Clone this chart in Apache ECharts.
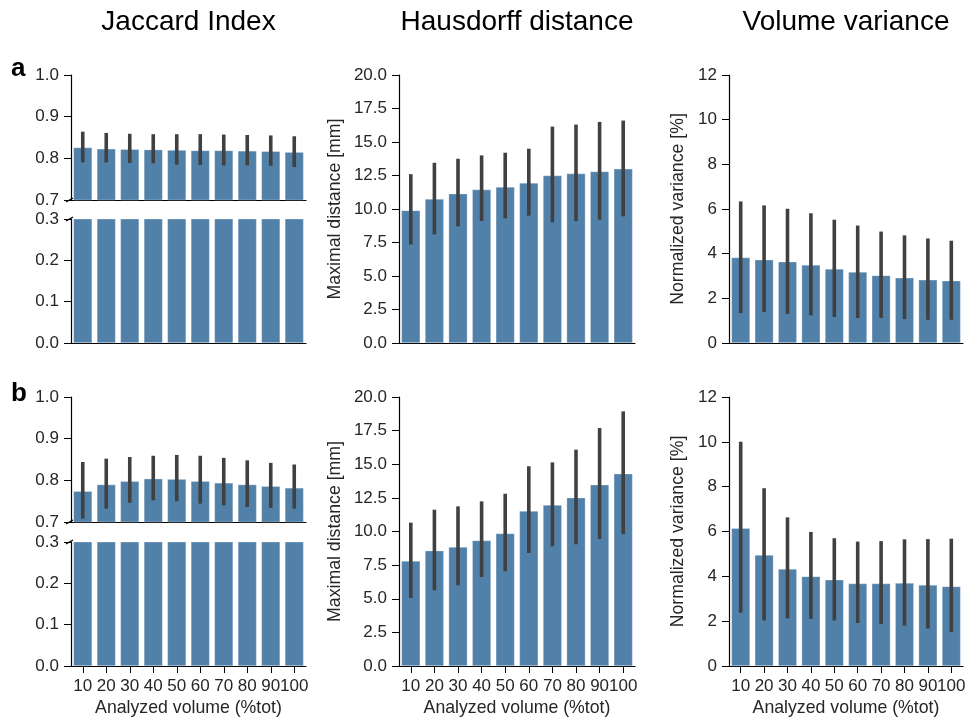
<!DOCTYPE html>
<html><head><meta charset="utf-8">
<script src="https://cdn.jsdelivr.net/npm/echarts@6/dist/echarts.min.js"></script>
<style>html,body{margin:0;padding:0;background:#fff}#c{width:978px;height:720px}</style>
</head><body><div id="c"></div>
<script>
const categories = ['10','20','30','40','50','60','70','80','90','100'];

// Row a
const jaccardA = [0.826,0.823,0.822,0.821,0.820,0.819,0.819,0.818,0.817,0.815];
const jaccardA_lo = [0.790,0.790,0.789,0.788,0.785,0.784,0.783,0.783,0.782,0.779];
const jaccardA_hi = [0.864,0.861,0.859,0.858,0.858,0.858,0.857,0.856,0.855,0.853];
const hausA = [9.9,10.75,11.15,11.45,11.65,11.95,12.5,12.65,12.8,13.0];
const hausA_lo = [7.35,8.1,8.7,9.1,9.3,9.5,9.0,9.1,9.2,9.45];
const hausA_hi = [12.6,13.45,13.75,14.0,14.2,14.5,16.15,16.3,16.5,16.6];
const volA = [3.83,3.73,3.64,3.50,3.32,3.18,3.03,2.92,2.83,2.79];
const volA_lo = [1.34,1.39,1.30,1.24,1.16,1.12,1.12,1.07,1.04,1.04];
const volA_hi = [6.34,6.16,6.01,5.81,5.52,5.26,4.99,4.82,4.68,4.58];

// Row b
const jaccardB = [0.774,0.790,0.798,0.804,0.803,0.798,0.794,0.790,0.786,0.782];
const jaccardB_lo = [0.708,0.732,0.746,0.752,0.750,0.744,0.740,0.736,0.734,0.732];
const jaccardB_hi = [0.844,0.852,0.856,0.859,0.861,0.859,0.854,0.848,0.842,0.838];
const hausB = [7.81,8.58,8.85,9.34,9.86,11.52,11.97,12.52,13.48,14.30];
const hausB_lo = [5.06,5.63,6.0,6.62,7.04,8.40,8.90,9.05,9.44,9.81];
const hausB_hi = [10.66,11.62,11.87,12.24,12.81,14.85,15.14,16.08,17.69,18.93];
const volB = [6.15,4.95,4.33,4.00,3.85,3.68,3.68,3.70,3.62,3.55];
const volB_lo = [2.38,2.03,2.12,2.10,2.03,1.92,1.88,1.80,1.67,1.52];
const volB_hi = [10.0,7.93,6.63,5.98,5.70,5.55,5.57,5.65,5.66,5.68];

const titles = ['Jaccard Index','Hausdorff distance','Volume variance'];
const yNames = ['Maximal distance [mm]','Normalized variance [%]'];
const xName = 'Analyzed volume (%tot)';
const panelLetters = ['a','b'];

const FONT = '"Liberation Sans", Arial, sans-serif';
const BAR = '#5181a9';
const ERR = '#404040';
const TXT = '#262626';
const TICK_FS = 17;
const NAME_FS = 17.7;

const chart = echarts.init(document.getElementById('c'));

const grids = [], xAxes = [], yAxes = [], series = [];
function addPanel(g, yMin, yMax, yInt, fmt, vals, lo, hi, opts) {
  const gi = grids.length;
  grids.push({left: g.left, top: g.top, width: g.width, height: g.height, containLabel: false});
  xAxes.push({
    type: 'category', gridIndex: gi, data: categories,
    axisLine: {show: true, lineStyle: {color: '#000', width: 1.2}},
    axisTick: {show: !!opts.xLabels, alignWithLabel: true, length: 7, lineStyle: {color: '#000', width: 1}},
    axisLabel: {show: !!opts.xLabels, color: TXT, fontSize: TICK_FS, fontFamily: FONT, margin: 12, interval: 0},
    name: opts.xLabels ? xName : '', nameLocation: 'middle', nameGap: 33,
    nameTextStyle: {color: TXT, fontSize: NAME_FS, fontFamily: FONT},
    splitLine: {show: false}
  });
  yAxes.push({
    type: 'value', gridIndex: gi, min: yMin, max: yMax, interval: yInt,
    axisLine: {show: true, lineStyle: {color: '#000', width: 1.2}},
    axisTick: {show: true, length: 7, lineStyle: {color: '#000', width: 1}},
    axisLabel: {color: TXT, fontSize: TICK_FS, fontFamily: FONT, margin: 12, formatter: v => fmt(v)},
    splitLine: {show: false},
    name: opts.yName || '', nameLocation: 'middle', nameGap: opts.nameGap || 50,
    nameTextStyle: {color: TXT, fontSize: NAME_FS, fontFamily: FONT}
  });
  series.push({
    type: 'bar', xAxisIndex: gi, yAxisIndex: gi, data: vals, barCategoryGap: '20%',
    itemStyle: {color: BAR, borderColor: 'rgba(255,255,255,0.5)', borderWidth: 0.6},
    clip: true, silent: true, animation: false
  });
  if (opts.err) {
    series.push({
      type: 'custom', xAxisIndex: gi, yAxisIndex: gi,
      data: categories.map((c, i) => [i, lo[i], hi[i]]),
      encode: {x: 0, y: [1, 2]},
      renderItem: (params, api) => {
        const x = api.value(0);
        const p1 = api.coord([x, api.value(1)]);
        const p2 = api.coord([x, api.value(2)]);
        return {type: 'line', shape: {x1: p1[0], y1: p1[1], x2: p2[0], y2: p2[1]},
                style: {stroke: ERR, lineWidth: 3.6, lineCap: 'butt'}};
      },
      silent: true, animation: false, z: 5
    });
  }
}

const f1 = v => v.toFixed(1);
const f0 = v => String(Math.round(v));

const rows = [
  {jt: 75, jb: 219, top: 75, h: 268, d: [jaccardA, jaccardA_lo, jaccardA_hi, hausA, hausA_lo, hausA_hi, volA, volA_lo, volA_hi], xl: false, letterY: 69},
  {jt: 397, jb: 542, top: 397, h: 269, d: [jaccardB, jaccardB_lo, jaccardB_hi, hausB, hausB_lo, hausB_hi, volB, volB_lo, volB_hi], xl: true, letterY: 394}
];
const cols = [{left: 71, width: 235}, {left: 399, width: 236}, {left: 729, width: 234}];

rows.forEach(r => {
  const d = r.d;
  addPanel({left: cols[0].left, width: cols[0].width, top: r.jt, height: 125}, 0.7, 1.0, 0.1, f1, d[0], d[1], d[2], {err: true, xLabels: false});
  addPanel({left: cols[0].left, width: cols[0].width, top: r.jb, height: 124}, 0, 0.3, 0.1, f1, d[0], d[1], d[2], {err: false, xLabels: r.xl});
  addPanel({left: cols[1].left, width: cols[1].width, top: r.top, height: r.h}, 0, 20, 2.5, f1, d[3], d[4], d[5], {err: true, xLabels: r.xl, yName: yNames[0], nameGap: 55});
  addPanel({left: cols[2].left, width: cols[2].width, top: r.top, height: r.h}, 0, 12, 2, f0, d[6], d[7], d[8], {err: true, xLabels: r.xl, yName: yNames[1], nameGap: 42});
});

const graphic = [];
titles.forEach((t, i) => {
  graphic.push({type: 'text', x: cols[i].left + cols[i].width / 2, y: 22,
    style: {text: t, align: 'center', verticalAlign: 'middle', fill: '#000', fontSize: 28, fontFamily: FONT}});
});
rows.forEach((r, i) => {
  graphic.push({type: 'text', x: 11, y: r.letterY,
    style: {text: panelLetters[i], align: 'left', verticalAlign: 'middle', fill: '#000', fontSize: 26, fontWeight: 'bold', fontFamily: FONT}});
  // broken-axis marks
  [r.jt + 125, r.jb].forEach(y => {
    graphic.push({type: 'line', shape: {x1: cols[0].left - 5, y1: y + 2, x2: cols[0].left + 2, y2: y - 2},
      style: {stroke: '#000', lineWidth: 1.2}});
  });
});

chart.setOption({
  animation: false,
  backgroundColor: '#fff',
  textStyle: {fontFamily: FONT},
  grid: grids, xAxis: xAxes, yAxis: yAxes, series: series, graphic: graphic
});
</script></body></html>
